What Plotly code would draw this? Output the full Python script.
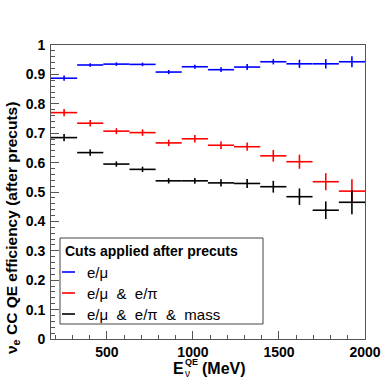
import plotly.graph_objects as go

# ---- data ----
energy_mev = [251, 403, 555, 707, 859, 1011, 1163, 1315, 1467, 1619, 1772, 1924]
bin_halfwidth_mev = [76, 76, 76, 76, 76, 76, 76, 76, 76, 76, 76, 76]

eff_emu = [0.887, 0.932, 0.935, 0.934, 0.908, 0.926, 0.916, 0.925, 0.943, 0.936, 0.936, 0.943]
err_emu = [0.009, 0.006, 0.006, 0.006, 0.007, 0.007, 0.008, 0.010, 0.009, 0.014, 0.016, 0.019]

eff_emu_epi = [0.770, 0.734, 0.707, 0.702, 0.667, 0.681, 0.659, 0.654, 0.623, 0.603, 0.535, 0.503]
err_emu_epi = [0.012, 0.011, 0.010, 0.011, 0.011, 0.013, 0.013, 0.014, 0.020, 0.024, 0.029, 0.040]

eff_emu_epi_mass = [0.685, 0.634, 0.595, 0.577, 0.538, 0.538, 0.531, 0.529, 0.518, 0.484, 0.438, 0.465]
err_emu_epi_mass = [0.012, 0.011, 0.009, 0.009, 0.009, 0.010, 0.012, 0.015, 0.020, 0.028, 0.030, 0.041]

series_names = ["e/μ", "e/μ\u00a0\u00a0&\u00a0\u00a0e/π", "e/μ\u00a0\u00a0&\u00a0\u00a0e/π\u00a0\u00a0&\u00a0\u00a0mass"]
series_colors = ["#0000ff", "#ff0000", "#000000"]
legend_title = "Cuts applied after precuts"
x_ticks = [500, 1000, 1500, 2000]
y_ticks = [0, 0.1, 0.2, 0.3, 0.4, 0.5, 0.6, 0.7, 0.8, 0.9, 1]

# ---- geometry ----
W, H = 392, 379
L, R, T, B = 51, 27, 45, 40
PW, PH = W - L - R, H - T - B

def px(x):
    return (x - L) / PW

def py(y):
    return (H - B - y) / PH

FONT = "Liberation Sans, Arial, sans-serif"

fig = go.Figure()
for vals, errs, col in zip([eff_emu, eff_emu_epi, eff_emu_epi_mass],
                           [err_emu, err_emu_epi, err_emu_epi_mass], series_colors):
    fig.add_trace(go.Scatter(
        x=energy_mev, y=vals, mode="markers",
        marker=dict(size=1, color=col, opacity=0),
        error_x=dict(type="data", array=bin_halfwidth_mev, color=col, thickness=1.6, width=0),
        error_y=dict(type="data", array=errs, color=col, thickness=1.6, width=0),
        showlegend=False, hoverinfo="skip",
    ))

axis_col = "#555555"
fig.update_layout(
    width=W, height=H,
    margin=dict(l=L, r=R, t=T, b=B),
    paper_bgcolor="white", plot_bgcolor="white",
    font=dict(family=FONT, color="black"),
    xaxis=dict(range=[175, 2000], tickvals=x_ticks, ticktext=[str(v) for v in x_ticks],
               ticks="inside", ticklen=8, tickcolor=axis_col, showline=True, linecolor=axis_col,
               linewidth=1, mirror=True, showgrid=False, zeroline=False,
               tickfont=dict(size=14, weight="bold", family=FONT),
               minor=dict(dtick=100, ticks="inside", ticklen=4, tickcolor=axis_col, showgrid=False)),
    yaxis=dict(range=[0, 1], tickvals=y_ticks, ticktext=[("%g" % v) for v in y_ticks],
               ticks="inside", ticklen=8, tickcolor=axis_col, showline=True, linecolor=axis_col,
               linewidth=1, mirror=True, showgrid=False, zeroline=False,
               tickfont=dict(size=14, weight="bold", family=FONT), ticklabelstandoff=2,
               minor=dict(dtick=0.02, ticks="inside", ticklen=4, tickcolor=axis_col, showgrid=False)),
)

shapes = []
annotations = []
# legend box
shapes.append(dict(type="rect", xref="paper", yref="paper",
                   x0=px(60), x1=px(263), y0=py(324), y1=py(238),
                   line=dict(color="#444444", width=1), fillcolor="white", layer="above"))
annotations.append(dict(xref="paper", yref="paper", x=px(63), y=py(251), xanchor="left", yanchor="middle",
                        text="<b>" + legend_title + "</b>", showarrow=False,
                        font=dict(size=14, family=FONT, color="black")))
entry_y = [272, 293, 314]
for name, col, ey in zip(series_names, series_colors, entry_y):
    shapes.append(dict(type="line", xref="paper", yref="paper", x0=px(62), x1=px(75), y0=py(ey), y1=py(ey),
                       line=dict(color=col, width=1.6), layer="above"))
    annotations.append(dict(xref="paper", yref="paper", x=px(85), y=py(ey), xanchor="left", yanchor="middle",
                            text=name, showarrow=False, font=dict(size=15, family=FONT, color="black")))

# y-axis title
annotations.append(dict(xref="paper", yref="paper", x=px(12), y=py(228), xanchor="center", yanchor="middle",
                        textangle=-90, showarrow=False,
                        text="<b>ν<sub>e</sub> CC QE efficiency (after precuts)</b>",
                        font=dict(size=15.5, family=FONT, color="black")))
# x-axis title: E with stacked sub/sup
annotations.append(dict(xref="paper", yref="paper", x=px(171), y=py(368), xanchor="left", yanchor="middle",
                        showarrow=False, text="<b>E</b>", font=dict(size=16, family=FONT, color="black")))
annotations.append(dict(xref="paper", yref="paper", x=px(183), y=py(361.5), xanchor="left", yanchor="middle",
                        showarrow=False, text="<b>QE</b>", font=dict(size=9, family=FONT, color="black")))
annotations.append(dict(xref="paper", yref="paper", x=px(183), y=py(373), xanchor="left", yanchor="middle",
                        showarrow=False, text="ν", font=dict(size=10, family=FONT, color="black")))
annotations.append(dict(xref="paper", yref="paper", x=px(200), y=py(368), xanchor="left", yanchor="middle",
                        showarrow=False, text="<b>(MeV)</b>", font=dict(size=16, family=FONT, color="black")))

fig.update_layout(shapes=shapes, annotations=annotations)
fig.write_html("out.html", config={"displayModeBar": False},
               post_script="document.body.style.margin='0';document.body.style.padding='0';document.body.style.overflow='hidden';")
